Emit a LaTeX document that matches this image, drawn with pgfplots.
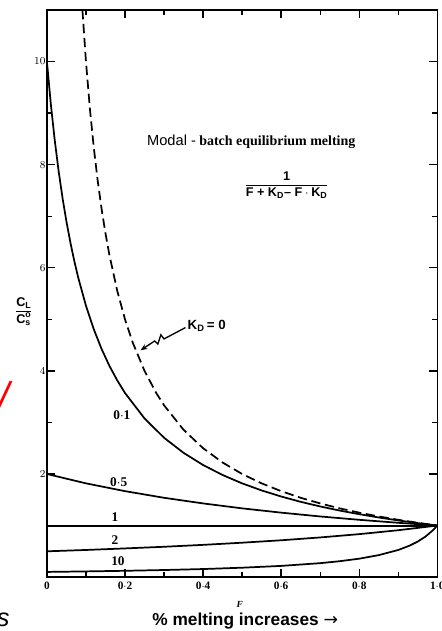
\documentclass[border=0pt]{standalone}
\usepackage{amsmath}
\usepackage{pgfplots}
\pgfplotsset{compat=1.18}
\usepackage{fontspec}
\setmainfont{Liberation Serif}
\setsansfont{Liberation Sans}
\newfontfamily\arrowfont{DejaVu Sans}
\usetikzlibrary{arrows.meta}
\begin{document}
\begin{tikzpicture}
\useasboundingbox (-35.25pt,-40.5pt) rectangle (296.25pt,433.5pt);
\begin{axis}[
  at={(0,0)}, anchor=south west, scale only axis,
  width=293.25pt, height=426pt,
  xmin=0, xmax=1, ymin=0, ymax=11,
  clip=false,
  axis line style={line width=1.2pt},
  xtick={0,0.2,0.4,0.6,0.8,1},
  xticklabels={0,0$\cdot$2,0$\cdot$4,0$\cdot$6,0$\cdot$8,1$\cdot$0},
  minor xtick={0.1,0.3,0.5,0.7,0.9},
  ytick={2,4,6,8,10},
  minor ytick={1,3,5,7,9},
  tick align=inside,
  major tick length=6pt, minor tick length=4pt,
  every tick/.style={line width=1pt, black},
  tick label style={font=\fontsize{8.5}{9}\selectfont\bfseries},
  xticklabel style={yshift=-0.5pt},
  yticklabel style={xshift=2.5pt},
]
% K_D = 0 (dashed)
\addplot[black, line width=1.3pt, dash pattern=on 7pt off 3.5pt] coordinates {
(0.0909,11.0) (0.1,10) (0.11,9.091) (0.12,8.333) (0.13,7.692) (0.14,7.143)
(0.15,6.667) (0.16,6.25) (0.18,5.556) (0.2,5) (0.22,4.545) (0.25,4)
(0.28,3.571) (0.3,3.333) (0.35,2.857) (0.4,2.5) (0.45,2.222) (0.5,2)
(0.55,1.818) (0.6,1.667) (0.65,1.538) (0.7,1.429) (0.75,1.333) (0.8,1.25)
(0.85,1.176) (0.9,1.111) (0.95,1.053) (1,1)};
% K_D = 0.1
\addplot[black, line width=1.3pt] coordinates {
(0,10) (0.01,9.174) (0.02,8.475) (0.03,7.874) (0.04,7.353) (0.05,6.897)
(0.06,6.494) (0.07,6.135) (0.08,5.814) (0.1,5.263) (0.12,4.808) (0.14,4.425)
(0.16,4.098) (0.18,3.817) (0.2,3.571) (0.25,3.077) (0.3,2.703) (0.35,2.410)
(0.4,2.174) (0.45,1.980) (0.5,1.818) (0.55,1.681) (0.6,1.563) (0.65,1.460)
(0.7,1.370) (0.75,1.290) (0.8,1.220) (0.85,1.156) (0.9,1.099) (0.95,1.047) (1,1)};
% K_D = 0.5
\addplot[black, line width=1.3pt] coordinates {
(0,2) (0.1,1.818) (0.2,1.667) (0.3,1.538) (0.4,1.429) (0.5,1.333)
(0.6,1.25) (0.7,1.176) (0.8,1.111) (0.9,1.053) (1,1)};
% K_D = 1
\addplot[black, line width=1.5pt] coordinates {(0,1) (1,1)};
% K_D = 2
\addplot[black, line width=1.3pt] coordinates {
(0,0.5) (0.1,0.526) (0.2,0.556) (0.3,0.588) (0.4,0.625) (0.5,0.667)
(0.6,0.714) (0.7,0.769) (0.8,0.833) (0.9,0.909) (1,1)};
% K_D = 10
\addplot[black, line width=1.3pt] coordinates {
(0,0.1) (0.1,0.110) (0.2,0.122) (0.3,0.137) (0.4,0.156) (0.5,0.182)
(0.6,0.217) (0.7,0.270) (0.75,0.308) (0.8,0.357) (0.85,0.426) (0.9,0.526)
(0.93,0.613) (0.95,0.690) (0.97,0.787) (0.99,0.917) (1,1)};

% curve labels
\node[font=\fontsize{10}{11}\selectfont\bfseries] at (axis cs:0.192,3.15) {0$\cdot$1};
\node[font=\fontsize{10}{11}\selectfont\bfseries] at (axis cs:0.184,1.84) {0$\cdot$5};
\node[font=\fontsize{10}{11}\selectfont\bfseries] at (axis cs:0.174,1.17) {1};
\node[font=\fontsize{10}{11}\selectfont\bfseries] at (axis cs:0.174,0.72) {2};
\node[font=\fontsize{10}{11}\selectfont\bfseries] at (axis cs:0.182,0.31) {10};

% K_D = 0 label and arrow
\node[anchor=west, inner sep=0pt, font=\sffamily\bfseries\fontsize{10}{11}\selectfont] at (axis cs:0.360,4.88) {K$_{\text{D}}$\,= 0};
\draw[line width=1pt, -{Stealth[length=5pt,width=4pt]}]
  (axis cs:0.355,4.84) -- (axis cs:0.300,4.62) -- (axis cs:0.292,4.70) -- (axis cs:0.284,4.52) -- (axis cs:0.276,4.58) -- (axis cs:0.240,4.40);

% title and formula
\node[anchor=west, inner sep=0pt] at (axis cs:0.256,8.45)
  {{\sffamily\fontsize{11}{12}\selectfont Modal -} {\bfseries\fontsize{10.5}{12}\selectfont batch equilibrium melting}};
\node[font=\sffamily\bfseries\fontsize{9.5}{11}\selectfont] at (axis cs:0.614,7.61)
  {$\dfrac{\text{1}}{\text{F + K}_{\text{D}}\text{-- F}\cdot\text{K}_{\text{D}}}$};

% y label
\node[font=\sffamily\bfseries\fontsize{9.5}{11}\selectfont] at (axis cs:-0.059,5.15)
  {$\dfrac{\text{C}_{\text{L}}}{\text{C}^{\text{o}}_{\text{s}}}$};

% x label
\node[font=\bfseries\itshape\fontsize{7}{8}\selectfont] at (axis cs:0.494,-0.54) {F};
\node[font=\sffamily\bfseries\fontsize{13}{15}\selectfont] at (axis cs:0.508,-0.85) {\% melting increases {\arrowfont\mdseries →}};

% cropped fragments at the left edge
\node[text=red, font=\sffamily\itshape\fontsize{30}{30}\selectfont] at (axis cs:-0.110,3.50) {/};
\node[font=\sffamily\itshape\fontsize{19}{20}\selectfont] at (axis cs:-0.112,-0.82) {s};
\end{axis}
\end{tikzpicture}
\end{document}
